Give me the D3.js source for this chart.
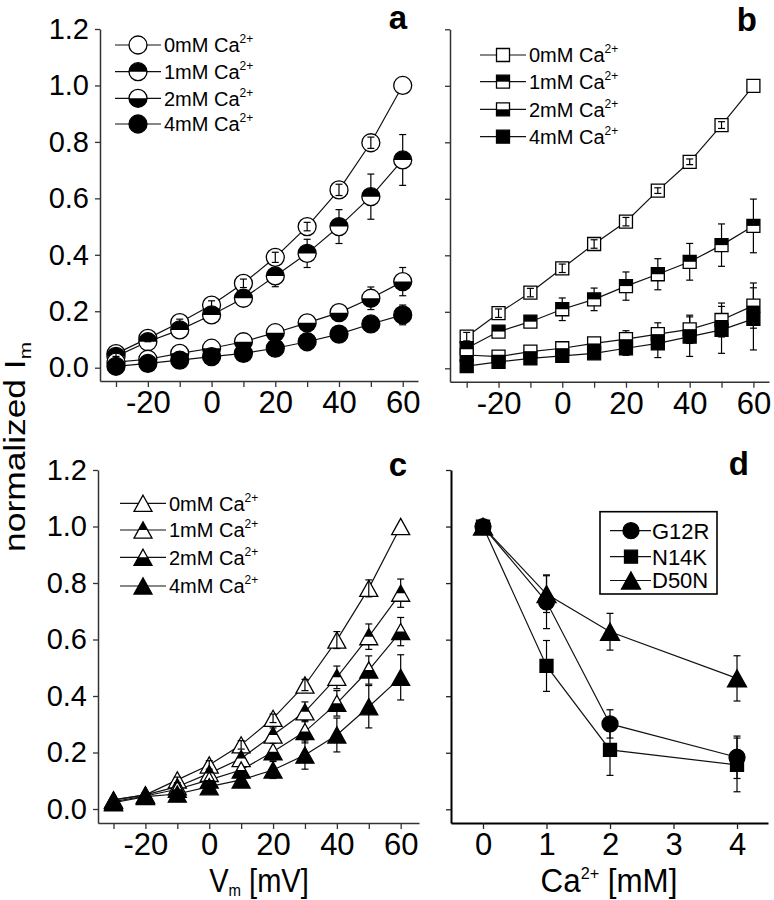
<!DOCTYPE html>
<html><head><meta charset="utf-8">
<script src="https://cdn.jsdelivr.net/npm/d3@7"></script>
<style>
body{margin:0;background:#fff}
svg{display:block}
text{font-family:"Liberation Sans", Arial, Helvetica, sans-serif; fill:#000}
</style>
</head><body>
<svg id="chart" width="774" height="900"></svg>
<script>
// ---------------- DATA ----------------
const voltages = [-30, -20, -10, 0, 10, 20, 30, 40, 50, 60];
const legendLabels = ["0mM Ca", "1mM Ca", "2mM Ca", "4mM Ca"];
const voltageTicks = [-30, -20, -10, 0, 10, 20, 30, 40, 50, 60];
const voltageTickLabels = ["", "-20", "", "0", "", "20", "", "40", "", "60"];
const currentTicks = [0, 0.2, 0.4, 0.6, 0.8, 1.0, 1.2];

// panel a (circles)
const aMean0 = [0.050, 0.104, 0.160, 0.222, 0.299, 0.391, 0.500, 0.630, 0.797, 1.000];
const aErr0  = [0.010, 0.012, 0.012, 0.015, 0.015, 0.018, 0.015, 0.020, 0.020, 0.000];
const aMean1 = [0.040, 0.092, 0.134, 0.187, 0.246, 0.325, 0.405, 0.500, 0.606, 0.736];
const aErr1  = [0.010, 0.012, 0.015, 0.015, 0.020, 0.038, 0.050, 0.060, 0.080, 0.090];
const aMean2 = [0.020, 0.030, 0.051, 0.069, 0.092, 0.124, 0.159, 0.195, 0.246, 0.305];
const aErr2  = [0.005, 0.008, 0.010, 0.012, 0.015, 0.015, 0.020, 0.028, 0.040, 0.050];
const aMean4 = [0.005, 0.015, 0.027, 0.039, 0.051, 0.069, 0.092, 0.119, 0.155, 0.187];
const aErr4  = [0.005, 0.005, 0.008, 0.010, 0.010, 0.012, 0.015, 0.018, 0.022, 0.035];

// panel b (squares)
const bMean0 = [0.112, 0.195, 0.268, 0.354, 0.440, 0.519, 0.629, 0.731, 0.861, 1.000];
const bErr0  = [0.015, 0.015, 0.015, 0.015, 0.015, 0.015, 0.010, 0.010, 0.012, 0.000];
const bMean1 = [0.071, 0.130, 0.165, 0.209, 0.244, 0.291, 0.333, 0.377, 0.436, 0.504];
const bErr1  = [0.020, 0.020, 0.020, 0.040, 0.040, 0.050, 0.055, 0.065, 0.075, 0.095];
const bMean2 = [0.047, 0.041, 0.059, 0.071, 0.088, 0.103, 0.121, 0.138, 0.171, 0.222];
const bErr2  = [0.015, 0.010, 0.010, 0.010, 0.015, 0.030, 0.040, 0.050, 0.060, 0.080];
const bMean4 = [0.008, 0.023, 0.035, 0.044, 0.053, 0.071, 0.088, 0.112, 0.136, 0.175];
const bErr4  = [0.010, 0.010, 0.010, 0.010, 0.015, 0.025, 0.050, 0.070, 0.083, 0.110];

// panel c (triangles)
const cMean0 = [0.032, 0.050, 0.103, 0.156, 0.227, 0.321, 0.439, 0.598, 0.781, 1.000];
const cErr0  = [0.010, 0.010, 0.010, 0.015, 0.015, 0.015, 0.020, 0.030, 0.030, 0.000];
const cMean1 = [0.032, 0.050, 0.079, 0.126, 0.179, 0.262, 0.344, 0.466, 0.610, 0.764];
const cErr1  = [0.010, 0.010, 0.015, 0.015, 0.020, 0.025, 0.035, 0.040, 0.045, 0.050];
const cMean2 = [0.026, 0.046, 0.070, 0.103, 0.138, 0.203, 0.274, 0.374, 0.492, 0.628];
const cErr2  = [0.010, 0.010, 0.015, 0.020, 0.025, 0.030, 0.040, 0.045, 0.050, 0.050];
const cMean4 = [0.022, 0.044, 0.053, 0.079, 0.103, 0.138, 0.191, 0.262, 0.362, 0.466];
const cErr4  = [0.010, 0.010, 0.015, 0.020, 0.025, 0.030, 0.050, 0.060, 0.075, 0.080];

// panel d
const calcium = [0, 1, 2, 4];
const calciumTicks = [0, 1, 2, 3, 4];
const mutants = ["G12R", "N14K", "D50N"];
const dG12R = [1.000, 0.734, 0.302, 0.184];
const dG12RErr = [0.000, 0.095, 0.050, 0.075];
const dN14K = [1.000, 0.507, 0.210, 0.157];
const dN14KErr = [0.000, 0.090, 0.090, 0.095];
const dD50N = [1.000, 0.761, 0.628, 0.463];
const dD50NErr = [0.000, 0.065, 0.065, 0.080];

// ---------------- DRAWING ----------------
const svg = d3.select("#chart");
const FONT = '"Liberation Sans", Arial, Helvetica, sans-serif';

function shapePaths(shape, sz) {
  if (shape === "circle") {
    const r = sz;
    return {
      full: `M${-r},0A${r},${r} 0 1,1 ${r},0A${r},${r} 0 1,1 ${-r},0Z`,
      top: `M${-r},0A${r},${r} 0 0,1 ${r},0Z`,
      bottom: `M${-r},0A${r},${r} 0 0,0 ${r},0Z`
    };
  }
  if (shape === "square") {
    const s = sz;
    return {
      full: `M${-s},${-s}H${s}V${s}H${-s}Z`,
      top: `M${-s},${-s}H${s}V0H${-s}Z`,
      bottom: `M${-s},0H${s}V${s}H${-s}Z`
    };
  }
  const w = sz * 2, h = sz * 1.8;
  return {
    full: `M0,${-h/2}L${w/2},${h/2}L${-w/2},${h/2}Z`,
    top: `M0,${-h/2}L${w/4},0L${-w/4},0Z`,
    bottom: `M${-w/4},0L${w/4},0L${w/2},${h/2}L${-w/2},${h/2}Z`
  };
}

function drawMarker(g, shape, mode, x, y, sz) {
  const p = shapePaths(shape, sz);
  const m = g.append("g").attr("transform", `translate(${x},${y})`);
  m.append("path").attr("d", p.full).attr("fill", mode === "filled" ? "#000" : "#fff");
  if (mode === "top") m.append("path").attr("d", p.top).attr("fill", "#000");
  if (mode === "bottom") m.append("path").attr("d", p.bottom).attr("fill", "#000");
  m.append("path").attr("d", p.full).attr("fill", "none").attr("stroke", "#000").attr("stroke-width", 1.3);
}

function drawErr(g, x, y, v, e) {
  if (e <= 0) return;
  const y1 = y(v + e), y2 = y(v - e);
  g.append("line").attr("x1", x).attr("x2", x).attr("y1", y1).attr("y2", y2)
    .attr("stroke", "#000").attr("stroke-width", 1.2);
  [y1, y2].forEach(yy => g.append("line").attr("x1", x - 3.5).attr("x2", x + 3.5)
    .attr("y1", yy).attr("y2", yy).attr("stroke", "#000").attr("stroke-width", 1.2));
}

function makePanel(p) {
  const x = d3.scaleLinear().domain(p.xDomain).range([p.x0, p.x1]);
  const y = d3.scaleLinear().domain([0, 1.2]).range([p.yZero, p.yTop]);
  const yBotVal = y.invert(p.yBot);
  const yAx = d3.scaleLinear().domain([yBotVal, 1.2]).range([p.yBot, p.yTop]);
  const g = svg.append("g");

  const ax = d3.axisBottom(x).tickValues(p.xTicks).tickSize(6).tickSizeOuter(0)
    .tickPadding(4).tickFormat((d, i) => p.xLabels[i]);
  const gx = g.append("g").attr("transform", `translate(0,${p.yBot})`).call(ax);
  const ay = d3.axisLeft(yAx).tickValues(currentTicks).tickSize(5).tickSizeOuter(0)
    .tickPadding(6).tickFormat(p.yLabels ? d3.format(".1f") : () => "");
  const gy = g.append("g").attr("transform", `translate(${p.x0},0)`).call(ay);
  [gx, gy].forEach(a => {
    a.selectAll("path.domain").attr("stroke", p.axisColor).attr("stroke-width", p.axisWidth);
    a.selectAll(".tick line").attr("stroke", p.axisColor).attr("stroke-width", 1.3);
  });
  gx.selectAll("text").attr("font-size", 31).attr("font-family", FONT).attr("fill", "#000")
    .attr("dy", "0.71em");
  gy.selectAll("text").attr("font-size", 29).attr("font-family", FONT).attr("fill", "#000");

  g.append("text").attr("x", p.letterX).attr("y", p.letterY).attr("text-anchor", "end")
    .attr("font-size", 33).attr("font-weight", "bold").attr("font-family", FONT).text(p.letter);

  const lineG = g.append("g"), errG = g.append("g"), markG = g.append("g"), topErrG = g.append("g");
  p.series.forEach(s => {
    const pts = s.xs.map((xv, i) => [x(xv), y(s.mean[i])]);
    lineG.append("path").attr("d", d3.line()(pts)).attr("fill", "none")
      .attr("stroke", "#111").attr("stroke-width", 1.2);
    s.xs.forEach((xv, i) => {
      const target = s.mode === "open" ? topErrG : errG;
      drawErr(target, x(xv), y, s.mean[i], s.err[i]);
      drawMarker(markG, p.shape, s.mode, x(xv), y(s.mean[i]), p.size);
    });
  });

  const lg = g.append("g");
  p.series.forEach((s, i) => {
    const ly = p.legendY[i];
    lg.append("line").attr("x1", p.legendX0).attr("x2", p.legendX1).attr("y1", ly).attr("y2", ly)
      .attr("stroke", "#111").attr("stroke-width", 1.2);
    drawMarker(lg, p.shape, s.mode, (p.legendX0 + p.legendX1) / 2, ly, p.size);
    const t = lg.append("text").attr("x", p.legendX1 + 3).attr("y", ly).attr("dy", "0.36em")
      .attr("font-size", p.legendFont).attr("font-family", FONT);
    t.append("tspan").text(s.label);
    if (s.sup) t.append("tspan").attr("font-size", 12).attr("dy", -9).text(s.sup);
  });
}

const modes = ["open", "top", "bottom", "filled"];
function vSeries(means, errs) {
  return means.map((m, i) => ({ xs: voltages, mean: m, err: errs[i], mode: modes[i], label: legendLabels[i], sup: "2+" }));
}

makePanel({
  letter: "a", letterX: 407, letterY: 29,
  x0: 100, x1: 418, yTop: 29, yZero: 367.7, yBot: 381,
  xDomain: [-35.02, 64.8], xTicks: voltageTicks, xLabels: voltageTickLabels, yLabels: true,
  axisColor: "#333", axisWidth: 1.5, shape: "circle", size: 9,
  series: vSeries([aMean0, aMean1, aMean2, aMean4], [aErr0, aErr1, aErr2, aErr4]),
  legendX0: 115, legendX1: 161, legendY: [45, 71.7, 98.3, 124], legendFont: 20
});

makePanel({
  letter: "b", letterX: 757, letterY: 31,
  x0: 450, x1: 769, yTop: 29.3, yZero: 368.3, yBot: 381.7,
  xDomain: [-35.24, 64.9], xTicks: voltageTicks, xLabels: voltageTickLabels, yLabels: false,
  axisColor: "#333", axisWidth: 1.5, shape: "square", size: 6.5,
  series: vSeries([bMean0, bMean1, bMean2, bMean4], [bErr0, bErr1, bErr2, bErr4]),
  legendX0: 480, legendX1: 526, legendY: [55, 81.7, 109.3, 136.7], legendFont: 20
});

makePanel({
  letter: "c", letterX: 407, letterY: 476,
  x0: 98, x1: 419, yTop: 470, yZero: 809, yBot: 823,
  xDomain: [-34.86, 65.74], xTicks: voltageTicks, xLabels: voltageTickLabels, yLabels: true,
  axisColor: "#333", axisWidth: 1.5, shape: "triangle", size: 9,
  series: vSeries([cMean0, cMean1, cMean2, cMean4], [cErr0, cErr1, cErr2, cErr4]),
  legendX0: 120, legendX1: 166, legendY: [503.3, 530, 557.3, 586], legendFont: 20
});

// panel d
(function () {
  const dSeries = [
    { xs: calcium, mean: dG12R, err: dG12RErr, label: mutants[0], shape: "circle", size: 8 },
    { xs: calcium, mean: dN14K, err: dN14KErr, label: mutants[1], shape: "square", size: 6.5 },
    { xs: calcium, mean: dD50N, err: dD50NErr, label: mutants[2], shape: "triangle", size: 9.5 }
  ];
  const p = { x0: 451, x1: 768, yTop: 470, yZero: 809.3, yBot: 823, xDomain: [-0.504, 4.488] };
  const x = d3.scaleLinear().domain(p.xDomain).range([p.x0, p.x1]);
  const y = d3.scaleLinear().domain([0, 1.2]).range([p.yZero, p.yTop]);
  const yAx = d3.scaleLinear().domain([y.invert(p.yBot), 1.2]).range([p.yBot, p.yTop]);
  const g = svg.append("g");
  const gx = g.append("g").attr("transform", `translate(0,${p.yBot})`)
    .call(d3.axisBottom(x).tickValues(calciumTicks).tickSize(6).tickSizeOuter(0).tickPadding(4).tickFormat(d3.format("d")));
  const gy = g.append("g").attr("transform", `translate(${p.x0},0)`)
    .call(d3.axisLeft(yAx).tickValues(currentTicks).tickSize(5).tickSizeOuter(0).tickFormat(() => ""));
  [gx, gy].forEach(a => {
    a.selectAll("path.domain").attr("stroke", "#000").attr("stroke-width", 2);
    a.selectAll(".tick line").attr("stroke", "#222").attr("stroke-width", 1.3);
  });
  gx.selectAll("text").attr("font-size", 31).attr("font-family", FONT).attr("fill", "#000").attr("dy", "0.71em");
  g.append("text").attr("x", 749).attr("y", 475).attr("text-anchor", "end")
    .attr("font-size", 33).attr("font-weight", "bold").attr("font-family", FONT).text("d");

  const lineG = g.append("g"), errG = g.append("g"), markG = g.append("g");
  dSeries.forEach(s => {
    const pts = s.xs.map((xv, i) => [x(xv), y(s.mean[i])]);
    lineG.append("path").attr("d", d3.line()(pts)).attr("fill", "none").attr("stroke", "#111").attr("stroke-width", 1.2);
    s.xs.forEach((xv, i) => {
      drawErr(errG, x(xv), y, s.mean[i], s.err[i]);
      drawMarker(markG, s.shape, "filled", x(xv), y(s.mean[i]), s.size);
    });
  });
  const lg = g.append("g");
  lg.append("rect").attr("x", 600).attr("y", 511.7).attr("width", 117).attr("height", 82.3)
    .attr("fill", "#fff").attr("stroke", "#000").attr("stroke-width", 1.6);
  const ly = [530.7, 556.7, 580.5];
  dSeries.forEach((s, i) => {
    lg.append("line").attr("x1", 610).attr("x2", 651).attr("y1", ly[i]).attr("y2", ly[i]).attr("stroke", "#111").attr("stroke-width", 1.2);
    drawMarker(lg, s.shape, "filled", 631, ly[i], s.size);
    lg.append("text").attr("x", 652).attr("y", ly[i]).attr("dy", "0.36em").attr("font-size", 22)
      .attr("font-family", FONT).text(s.label);
  });
})();

// axis titles
const yt = svg.append("text").attr("transform", "translate(25,447) rotate(-90) scale(1.22,1)")
  .attr("text-anchor", "middle").attr("font-size", 29).attr("font-family", FONT);
yt.append("tspan").text("normalized I");
yt.append("tspan").attr("font-size", 17).attr("dy", 6).text("m");

const xt1 = svg.append("text").attr("transform", "translate(259,892) scale(0.88,1)")
  .attr("text-anchor", "middle").attr("font-size", 33).attr("font-family", FONT);
xt1.append("tspan").text("V");
xt1.append("tspan").attr("font-size", 17).attr("dy", 4).text("m");
xt1.append("tspan").attr("dy", -4).text(" [mV]");

const xt2 = svg.append("text").attr("transform", "translate(609,892) scale(0.95,1)")
  .attr("text-anchor", "middle").attr("font-size", 33).attr("font-family", FONT);
xt2.append("tspan").text("Ca");
xt2.append("tspan").attr("font-size", 17).attr("dy", -13).text("2+");
xt2.append("tspan").attr("dy", 13).text(" [mM]");
</script>
</body></html>
